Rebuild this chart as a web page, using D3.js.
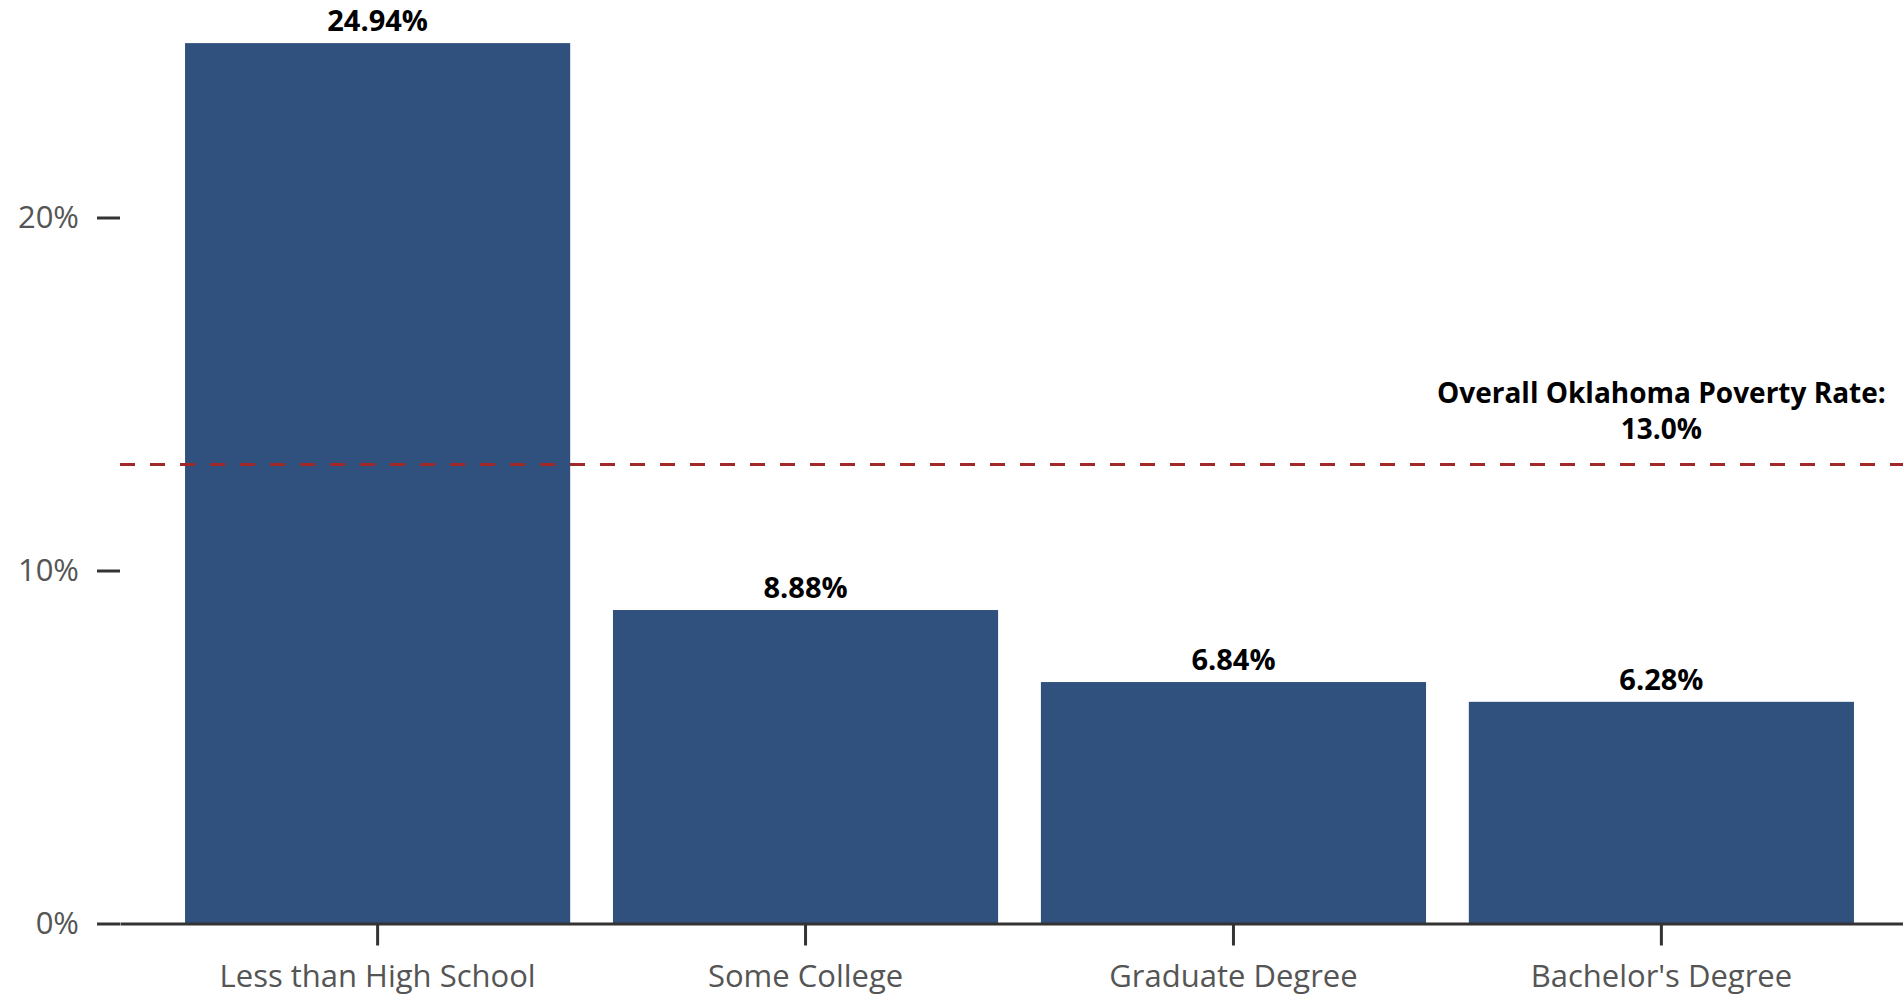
<!DOCTYPE html>
<html>
<head>
<meta charset="utf-8">
<script src="https://cdn.jsdelivr.net/npm/d3@7"></script>
<style>
  body { margin: 0; background: #fff; }
  svg { display: block; font-family: "Open Sans", sans-serif; }
</style>
</head>
<body>
<svg id="chart"></svg>
<script>
"use strict";

// poverty rate by education level
const categories = ["Less than High School", "Some College", "Graduate Degree", "Bachelor's Degree"];
const rates = [24.94, 8.88, 6.84, 6.28];
const yTicks = [0, 10, 20];
const overallRate = 13.0;
const overallLabel = ["Overall Oklahoma Poverty Rate:", "13.0%"];

const W = 1903, H = 999;
const margin = {top: 41, right: -16, bottom: 75.5, left: 120};

let svg = d3.select("#chart")
  .attr("width", W)
  .attr("height", H);

let x = d3.scaleBand()
  .domain(categories)
  .range([margin.left, W - margin.right])
  .paddingInner(0.1)
  .paddingOuter(0.152);

let y = d3.scaleLinear()
  .domain([0, 25])
  .range([H - margin.bottom, margin.top]);

// bars
svg.append("g")
  .selectAll("rect")
  .data(categories)
  .join("rect")
    .attr("x", d => x(d))
    .attr("y", (d, i) => y(rates[i]))
    .attr("width", x.bandwidth())
    .attr("height", (d, i) => y(0) - y(rates[i]))
    .attr("fill", "#30517d");

// value labels
svg.append("g")
  .selectAll("text")
  .data(categories)
  .join("text")
    .attr("x", d => x(d) + x.bandwidth() / 2)
    .attr("y", (d, i) => y(rates[i]) - 12)
    .attr("text-anchor", "middle")
    .attr("font-size", 29)
    .attr("font-weight", "bold")
    .attr("fill", "#000")
    .text((d, i) => rates[i].toFixed(2) + "%");

// y axis (ticks only)
let yAxis = svg.append("g")
  .attr("transform", "translate(" + margin.left + ",0)")
  .call(d3.axisLeft(y).tickValues(yTicks).tickSize(23).tickPadding(18).tickFormat(d => d + "%"));
yAxis.select(".domain").remove();
yAxis.selectAll(".tick line").attr("stroke", "#333").attr("stroke-width", 3);
yAxis.selectAll(".tick text")
  .attr("font-size", 31)
  .attr("fill", "#555")
  .attr("font-family", "Open Sans, sans-serif");

// x axis
let xAxis = svg.append("g")
  .attr("transform", "translate(0," + y(0) + ")")
  .call(d3.axisBottom(x).tickSize(22).tickSizeOuter(0).tickPadding(19));
xAxis.select(".domain").attr("stroke", "#333").attr("stroke-width", 3);
xAxis.selectAll(".tick line").attr("stroke", "#333").attr("stroke-width", 3);
xAxis.selectAll(".tick text")
  .attr("font-size", 31)
  .attr("fill", "#555")
  .attr("font-family", "Open Sans, sans-serif");

// overall rate reference line
svg.append("line")
  .attr("x1", margin.left)
  .attr("x2", W)
  .attr("y1", y(overallRate))
  .attr("y2", y(overallRate))
  .attr("stroke", "#a02828")
  .attr("stroke-width", 3)
  .attr("stroke-dasharray", "15,15");

// two-line label, one text per line
let last = categories[categories.length - 1];
svg.append("g")
  .selectAll("text")
  .data(overallLabel)
  .join("text")
    .attr("x", x(last) + x.bandwidth() / 2)
    .attr("y", (d, i) => y(overallRate) - 62 + i * 36)
    .attr("text-anchor", "middle")
    .attr("font-size", i => 28)
    .attr("font-weight", "bold")
    .attr("fill", "#000")
    .text(d => d);
</script>
</body>
</html>
